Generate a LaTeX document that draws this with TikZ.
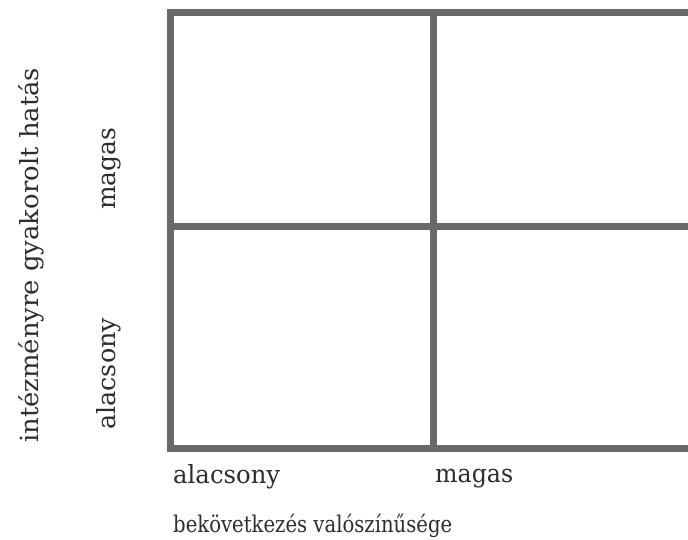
\documentclass[tikz,border=0pt]{standalone}
\usepackage{fontspec}
\usepackage{graphicx}
\setmainfont{DejaVu Serif}
\definecolor{gridgray}{RGB}{105,105,105}
\definecolor{txt}{RGB}{45,45,45}
\tikzset{
  gridline/.style={draw=gridgray, line width=7pt, line cap=rect},
  lbl/.style={inner sep=0pt, text=txt, font=\fontsize{25}{29}\selectfont},
  smalllbl/.style={inner sep=0pt, text=txt, font=\fontsize{23}{27}\selectfont},
  vlbl/.style={lbl, rotate=90, anchor=base west},
  hlbl/.style={lbl, anchor=base west}
}
\begin{document}
\begin{tikzpicture}[x=1pt, y=-1pt]
\useasboundingbox (0,0) rectangle (688,539);
\clip (0,0) rectangle (688,539);
\coordinate (tl) at (170,12);
\coordinate (bl) at (170,448);
\coordinate (tm) at (433,12);
\coordinate (bm) at (433,448);
\coordinate (ml) at (170,226);
\coordinate (tr) at (720,12);
\coordinate (br) at (720,448);
\coordinate (mr) at (720,226);
\draw[gridline] (tr) -- (tl) -- (bl) -- (br);
\draw[gridline] (tm) -- (bm);
\draw[gridline] (ml) -- (mr);
\node[hlbl] (xlo) at (173,483) {\resizebox{107pt}{\height}{alacsony}};
\node[hlbl] (xhi) at (435,482) {\resizebox{78pt}{\height}{magas}};
\node[hlbl, smalllbl] (xt) at (173,532) {\resizebox{279pt}{\height}{bekövetkezés valószínűsége}};
\node[vlbl] (yhi) at (115,210) {\resizebox{82pt}{\height}{magas}};
\node[vlbl] (ylo) at (115,430) {\resizebox{112pt}{\height}{alacsony}};
\node[vlbl] (yt) at (38,443) {\resizebox{375pt}{\height}{intézményre gyakorolt hatás}};
\end{tikzpicture}
\end{document}
